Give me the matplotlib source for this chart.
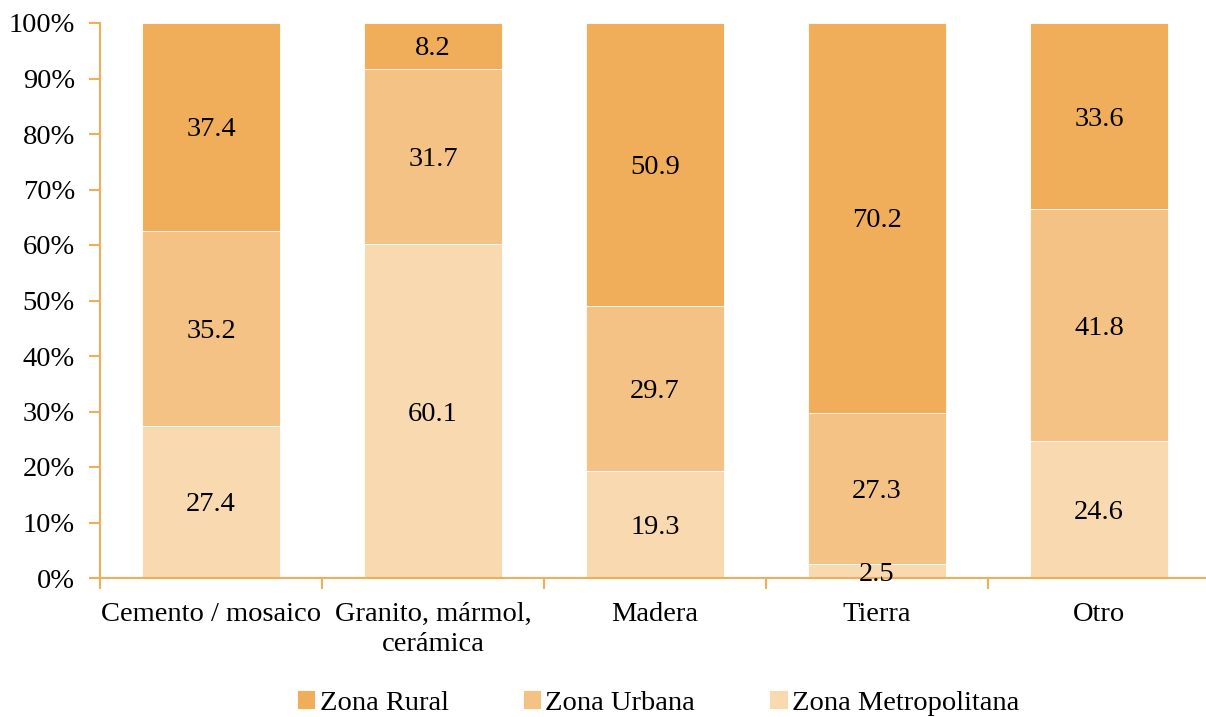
import matplotlib
matplotlib.use("Agg")
import matplotlib.pyplot as plt
import numpy as np
from matplotlib.ticker import PercentFormatter

plt.rcParams["font.family"] = ["Liberation Serif", "DejaVu Serif"]

categories = ["Cemento / mosaico", "Granito, mármol,\ncerámica", "Madera", "Tierra", "Otro"]
series_names = ["Zona Metropolitana", "Zona Urbana", "Zona Rural"]
metropolitana = [27.4, 60.1, 19.3, 2.5, 24.6]
urbana = [35.2, 31.7, 29.7, 27.3, 41.8]
rural = [37.4, 8.2, 50.9, 70.2, 33.6]

colors = {
    "Zona Metropolitana": "#F8D9B0",
    "Zona Urbana": "#F5C285",
    "Zona Rural": "#F0AE5A",
}
axis_color = "#F0AE5A"
fs = 20.5

fig = plt.figure(figsize=(12.06, 7.17), dpi=100)
ax = fig.add_axes([100 / 1206, 1 - 578 / 717, 1110 / 1206, 555 / 717])

x = np.arange(len(categories))
data = np.array([metropolitana, urbana, rural])
totals = data.sum(axis=0)
shares = data / totals * 100

bottom = np.zeros(len(categories))
handles = {}
for name, vals, share in zip(series_names, data, shares):
    bars = ax.bar(x, share, width=0.62, bottom=bottom, color=colors[name],
                  edgecolor="white", linewidth=0.6, label=name)
    handles[name] = bars
    for xi, b, s, v in zip(x, bottom, share, vals):
        ax.text(xi, b + s / 2, f"{v:.1f}", ha="center", va="center_baseline", fontsize=fs)
    bottom += share

ax.set_xlim(-0.5, len(categories) - 0.5)
ax.set_ylim(0, 100)
ax.set_yticks(np.arange(0, 101, 10))
ax.yaxis.set_major_formatter(PercentFormatter(decimals=0))
ax.set_xticks(x)
ax.set_xticklabels(categories, fontsize=fs, linespacing=1.3)
ax.set_xticks(np.arange(-0.5, len(categories), 1), minor=True)
ax.tick_params(axis="x", which="major", length=0, pad=17)
ax.tick_params(axis="x", which="minor", length=8, color=axis_color, width=1.5)
ax.tick_params(axis="y", length=8, color=axis_color, width=1.5, labelsize=fs, pad=10)

for side in ("top", "right"):
    ax.spines[side].set_visible(False)
for side in ("left", "bottom"):
    ax.spines[side].set_color(axis_color)
    ax.spines[side].set_linewidth(1.5)

order = ["Zona Rural", "Zona Urbana", "Zona Metropolitana"]
fig.legend([handles[n] for n in order], order, loc="center", ncol=3,
           bbox_to_anchor=(658 / 1206, 1 - 703 / 717), frameon=False, fontsize=fs,
           handlelength=0.65, handleheight=0.65, handletextpad=0.15, columnspacing=2.6)

fig.savefig("out.png", dpi=100)
